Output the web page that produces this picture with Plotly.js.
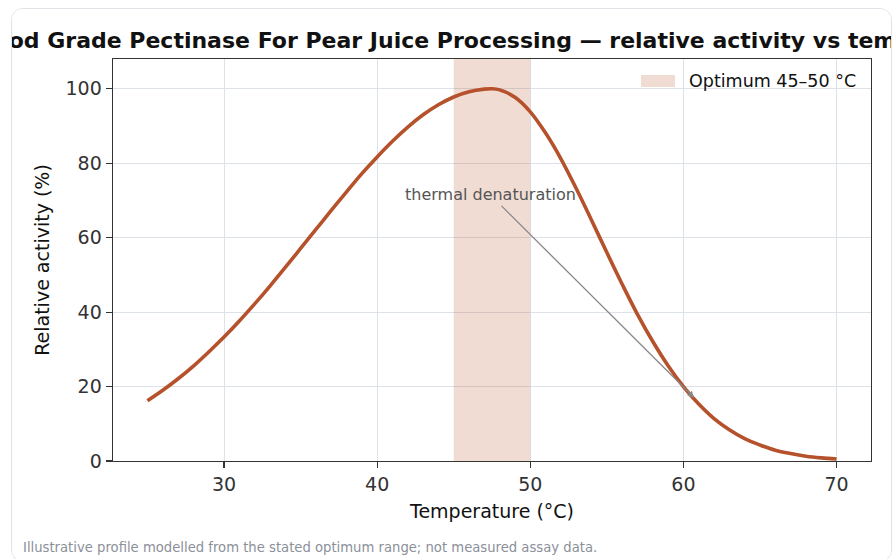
<!DOCTYPE html>
<html>
<head>
<meta charset="utf-8">
<script src="https://cdn.plot.ly/plotly-3.0.1.min.js"></script>
<style>
  html, body { margin: 0; padding: 0; background: #ffffff; width: 893px; height: 559px; overflow: hidden; }
  #card { position: absolute; left: 11px; top: 8px; width: 879px; height: 552px; border: 1px solid #dfe3e8; border-radius: 12px; overflow: hidden; background: #fff; }
  #chart { position: absolute; left: 0; top: 0; width: 879px; height: 550px; }
</style>
</head>
<body>
<div id="card"><div id="chart"></div></div>
<script>
// Temperature (°C) and relative activity (%)
const temperature = [25, 26, 27, 28, 29, 30, 31, 32, 33, 34, 35, 36, 37, 38, 39, 40, 41, 42, 43, 44, 45, 46, 47, 47.5,
                     48, 49, 50, 51, 52, 53, 54, 55, 56, 57, 58, 59, 60, 61, 62, 63, 64, 65, 66, 67, 68, 69, 70];
const activity = [16.2, 19.0, 22.1, 25.5, 29.3, 33.3, 37.6, 42.2, 47.0, 52.0, 57.1, 62.2, 67.3, 72.3, 77.2, 81.7, 85.9, 89.7, 93.0, 95.7, 97.8, 99.2, 99.9, 100,
                  99.7, 97.7, 93.8, 88.1, 81.2, 73.2, 64.7, 56.0, 47.5, 39.4, 32.1, 25.6, 20.0, 15.3, 11.4, 8.4, 6.0, 4.3, 2.9, 2.0, 1.3, 0.85, 0.54];
const optimumRange = [45, 50];
const bandLabel = "Optimum 45–50 °C";
const xTicks = [30, 40, 50, 60, 70];
const yTicks = [0, 20, 40, 60, 80, 100];
const xRange = [22.75, 72.25];
const yRange = [0, 108];
const annotationPoint = [60.7, 17];
const annotationTextPos = [47.4, 71.5];

const font = "DejaVu Sans, Verdana, sans-serif";
const bandColor = "rgba(184,80,40,0.2)";

const band = {
  x: [optimumRange[0], optimumRange[1], optimumRange[1], optimumRange[0], optimumRange[0]],
  y: [yRange[0], yRange[0], yRange[1], yRange[1], yRange[0]],
  type: "scatter", mode: "lines", fill: "toself",
  fillcolor: bandColor, line: { width: 0, color: "rgba(0,0,0,0)" },
  name: bandLabel, hoverinfo: "skip", showlegend: false
};

const curve = {
  x: temperature, y: activity, type: "scatter", mode: "lines",
  line: { color: "#b5512b", width: 3.6, shape: "spline", smoothing: 1.0 },
  showlegend: false, name: "Relative activity"
};

const layout = {
  width: 879, height: 550,
  margin: { l: 101, r: 20, t: 50, b: 98 },
  paper_bgcolor: "#ffffff", plot_bgcolor: "#ffffff",
  font: { family: font, color: "#333333" },
  showlegend: false,
  title: {
    text: "<b>Food Grade Pectinase For Pear Juice Processing — relative activity vs temperature</b>",
    font: { family: font, size: 22, color: "#111111" },
    x: 0.5, xref: "paper", xanchor: "center", y: 0.944, yref: "container", yanchor: "middle"
  },
  xaxis: {
    range: xRange, tickvals: xTicks, ticktext: xTicks.map(String),
    showgrid: true, gridcolor: "#dde2e8", gridwidth: 1,
    showline: true, linecolor: "#333333", linewidth: 1.4, mirror: true,
    ticks: "outside", ticklen: 6, tickwidth: 1.2, tickcolor: "#333333",
    tickfont: { family: font, size: 19, color: "#333333" },
    zeroline: false,
    title: { text: "Temperature (°C)", font: { family: font, size: 19, color: "#111111" }, standoff: 10 }
  },
  yaxis: {
    range: yRange, tickvals: yTicks, ticktext: yTicks.map(String),
    showgrid: true, gridcolor: "#dde2e8", gridwidth: 1,
    showline: true, linecolor: "#333333", linewidth: 1.4, mirror: true,
    ticks: "outside", ticklen: 6, tickwidth: 1.2, tickcolor: "#333333",
    tickfont: { family: font, size: 19, color: "#333333" },
    zeroline: false,
    title: { text: "Relative activity (%)", font: { family: font, size: 19, color: "#111111" }, standoff: 11 }
  },
  shapes: [
    {
      type: "rect", xref: "paper", yref: "paper",
      x0: 0.6966, x1: 0.7414, y0: 0.9303, y1: 0.9602,
      fillcolor: bandColor, line: { width: 0 }
    }
  ],
  annotations: [
    {
      x: 0.7573, y: 0.9453, xref: "paper", yref: "paper",
      xanchor: "left", yanchor: "middle", showarrow: false,
      text: bandLabel,
      font: { family: font, size: 17.5, color: "#111111" }
    },
    {
      x: annotationPoint[0], y: annotationPoint[1], xref: "x", yref: "y",
      ax: annotationTextPos[0], ay: annotationTextPos[1], axref: "x", ayref: "y",
      text: "thermal denaturation", showarrow: true,
      arrowhead: 2, arrowsize: 1, arrowwidth: 1.3, arrowcolor: "#888888",
      font: { family: font, size: 16, color: "#555555" }
    },
    {
      x: -0.1214, y: -0.2164, xref: "paper", yref: "paper",
      xanchor: "left", yanchor: "middle", showarrow: false,
      text: "Illustrative profile modelled from the stated optimum range; not measured assay data.",
      font: { family: font, size: 13.2, color: "#8b9099" }
    }
  ]
};

Plotly.newPlot("chart", [band, curve], layout, { displayModeBar: false, staticPlot: true });
</script>
</body>
</html>
